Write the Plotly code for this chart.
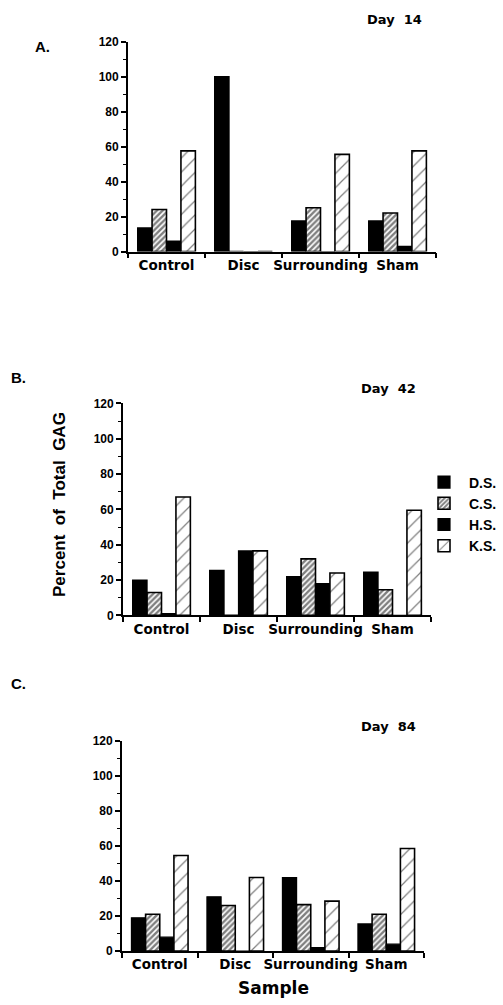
import plotly.graph_objects as go

W, H = 503, 1005

# ---- data ----
groups = [0, 1, 2, 3]
group_labels = ["Control", "Disc", "Surrounding", "Sham"]
series_names = ["D.S.", "C.S.", "H.S.", "K.S."]
y_ticks = [0, 20, 40, 60, 80, 100, 120]

day14_ds = [13.5, 100, 17.5, 17.5]
day14_cs = [24, 0, 25, 22]
day14_hs = [6, 0, 0, 3]
day14_ks = [57.5, 0, 55.5, 57.5]

day42_ds = [20, 25.5, 22, 24.5]
day42_cs = [13, 0, 32, 14.5]
day42_hs = [1, 36.5, 18, 0]
day42_ks = [67, 36.5, 24, 59.5]

day84_ds = [19, 31, 42, 15.5]
day84_cs = [21, 26, 26.5, 21]
day84_hs = [8, 0, 2, 4]
day84_ks = [54.5, 42, 28.5, 58.5]

panels = [
    ("Day  14", "A.", [day14_ds, day14_cs, day14_hs, day14_ks]),
    ("Day  42", "B.", [day42_ds, day42_cs, day42_hs, day42_ks]),
    ("Day  84", "C.", [day84_ds, day84_cs, day84_hs, day84_ks]),
]

# pixel layout (left, right, bottom, top)
boxes = [(128, 436, 248, 35), (123, 431, 617, 402), (122, 424, 957.5, 744)]
title_pos = [(394, 13), (388, 387), (388, 730)]
letter_pos = [(42, 40), (18, 376), (18, 686)]

SANS = "Liberation Sans, Arial, Helvetica, sans-serif"
WIDE = "DejaVu Sans, Verdana, sans-serif"

styles = [
    dict(color="black", line=dict(color="black", width=1.2)),
    dict(color="white", line=dict(color="black", width=1.6),
         pattern=dict(shape="/", fgcolor="black", bgcolor="white", size=4, solidity=0.6)),
    dict(color="black", line=dict(color="black", width=1.2)),
    dict(color="white", line=dict(color="black", width=1.6),
         pattern=dict(shape="/", fgcolor="black", bgcolor="white", size=10, solidity=0.12)),
]

fig = go.Figure()

for i, (title, letter, vals) in enumerate(panels):
    xa = "x" if i == 0 else f"x{i+1}"
    ya = "y" if i == 0 else f"y{i+1}"
    for k, name in enumerate(series_names):
        fig.add_trace(go.Bar(
            x=groups, y=vals[k], name=f"<b>{name}</b>", xaxis=xa, yaxis=ya,
            marker=styles[k], showlegend=(i == 1), legendgroup=name,
            offsetgroup=str(k),
        ))
    l, r, b, t = boxes[i]
    xkey = "xaxis" if i == 0 else f"xaxis{i+1}"
    ykey = "yaxis" if i == 0 else f"yaxis{i+1}"
    fig.layout[xkey] = dict(
        domain=[l / W, r / W], anchor=ya, range=[-0.5, 3.5],
        tickmode="array", tickvals=groups, ticktext=group_labels,
        ticks="outside", ticklen=0, showline=True, linecolor="black", linewidth=1.8,
        showgrid=False, zeroline=False,
        tickfont=dict(family=WIDE, size=13.5, color="black", weight="bold"),
        minor=dict(tickmode="array", tickvals=[-0.5, 0.5, 1.5, 2.5, 3.5],
                   ticks="outside", ticklen=5, tickcolor="black", tickwidth=1.5),
    )
    fig.layout[ykey] = dict(
        domain=[1 - b / H, 1 - t / H], anchor=xa, range=[0, 120],
        tickmode="array", tickvals=y_ticks,
        ticks="outside", ticklen=5, tickwidth=1.5, tickcolor="black",
        showline=True, linecolor="black", linewidth=1.8,
        showgrid=False, zeroline=False,
        tickfont=dict(family=SANS, size=12, color="black", weight="bold"),
        minor=dict(dtick=10, ticks="outside", ticklen=3, tickcolor="black", tickwidth=1.2),
    )
    tx, ty = title_pos[i]
    fig.add_annotation(text=title, x=tx / W, y=1 - ty / H, xref="paper", yref="paper",
                       xanchor="center", yanchor="middle", showarrow=False,
                       font=dict(family=WIDE, size=13, color="black", weight="bold"))
    lx, ly = letter_pos[i]
    fig.add_annotation(text=letter, x=lx / W, y=1 - ly / H, xref="paper", yref="paper",
                       xanchor="center", yanchor="middle", showarrow=False,
                       font=dict(family=SANS, size=15, color="black", weight="bold"))

fig.add_annotation(text="Percent  of  Total  GAG", x=60 / W, y=1 - 505 / H,
                   xref="paper", yref="paper", textangle=-90, showarrow=False,
                   xanchor="center", yanchor="middle",
                   font=dict(family=SANS, size=17, color="black", weight="bold"))
fig.add_annotation(text="Sample", x=273 / W, y=1 - 995 / H, xref="paper", yref="paper",
                   showarrow=False, xanchor="center", yanchor="middle",
                   font=dict(family=WIDE, size=17, color="black", weight="bold"))

fig.update_layout(
    width=W, height=H, margin=dict(l=0, r=0, t=0, b=0),
    paper_bgcolor="white", plot_bgcolor="white",
    barmode="group", bargap=0.25, bargroupgap=0,
    legend=dict(x=419 / W, y=1 - 466 / H, xanchor="left", yanchor="top",
                font=dict(family=SANS, size=14, color="black"),
                bgcolor="rgba(0,0,0,0)", itemwidth=40, tracegroupgap=0),
)

fig.write_html(
    "out.html",
    config={"displayModeBar": False},
    post_script="document.body.style.margin='0px';document.body.style.overflow='hidden';",
)
